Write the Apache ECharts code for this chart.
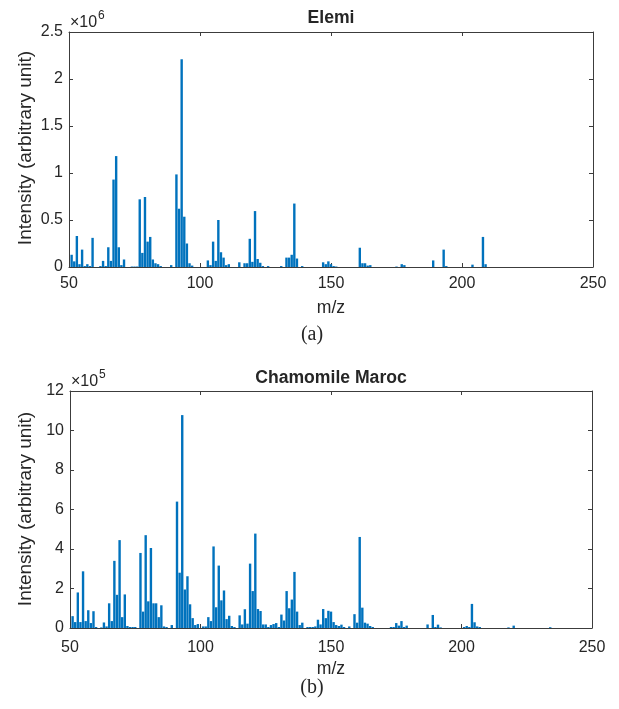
<!DOCTYPE html>
<html>
<head>
<meta charset="utf-8">
<script src="https://cdn.jsdelivr.net/npm/echarts@6/dist/echarts.min.js"></script>
<style>
html,body{margin:0;padding:0;background:#fff;}
#c{width:619px;height:709px;}
</style>
</head>
<body>
<div id="c"></div>
<script>
// ---------- data ----------
var titleA = 'Elemi';
var titleB = 'Chamomile Maroc';
var xTicks = [50, 100, 150, 200, 250];
var yTicksA = [0, 0.5, 1, 1.5, 2, 2.5];      // x10^6
var yTicksB = [0, 2, 4, 6, 8, 10, 12];       // x10^5

var mzA = [51,52,53,54,55,56,57,58,59,62,63,64,65,66,67,68,69,70,71,74,75,76,77,78,79,80,81,82,83,84,85,89,91,92,93,94,95,96,97,103,104,105,106,107,108,109,110,111,115,117,118,119,120,121,122,123,124,126,131,133,134,135,136,137,139,147,148,149,150,151,152,161,162,163,164,165,175,177,178,189,193,194,204,208,209];
var intA = [0.13,0.06,0.33,0.03,0.185,0.01,0.03,0.01,0.31,0.01,0.065,0.01,0.21,0.065,0.93,1.18,0.21,0.02,0.08,0.005,0.005,0.005,0.72,0.15,0.745,0.27,0.32,0.08,0.04,0.03,0.01,0.02,0.985,0.62,2.21,0.535,0.25,0.04,0.015,0.07,0.02,0.27,0.065,0.50,0.157,0.10,0.02,0.03,0.05,0.04,0.04,0.30,0.055,0.595,0.085,0.045,0.01,0.01,0.01,0.10,0.10,0.13,0.675,0.09,0.01,0.05,0.03,0.06,0.03,0.01,0.005,0.205,0.04,0.04,0.015,0.02,0.005,0.03,0.02,0.07,0.185,0.01,0.025,0.32,0.03];

var mzB = [51,52,53,54,55,56,57,58,59,60,62,63,64,65,66,67,68,69,70,71,72,73,74,75,77,78,79,80,81,82,83,84,85,86,87,89,91,92,93,94,95,96,97,98,99,101,102,103,104,105,106,107,108,109,110,111,112,113,115,116,117,118,119,120,121,122,123,124,125,126,127,128,129,130,131,132,133,134,135,136,137,138,139,141,142,143,144,145,146,147,148,149,150,151,152,153,154,155,157,159,160,161,162,163,164,165,166,173,174,175,176,177,178,179,187,189,190,191,192,201,202,203,204,205,206,207,218,220,234];
var intB = [0.6,0.3,1.8,0.3,2.87,0.35,0.9,0.25,0.85,0.05,0.03,0.28,0.08,1.25,0.35,3.4,1.68,4.45,0.55,1.7,0.1,0.05,0.05,0.05,3.8,0.83,4.7,1.35,4.05,1.25,1.25,0.55,1.15,0.08,0.05,0.15,6.4,2.8,10.78,1.95,2.62,1.2,0.5,0.15,0.2,0.08,0.08,0.55,0.35,4.13,1.05,3.16,1.4,1.9,0.45,0.62,0.1,0.05,0.64,0.18,0.95,0.22,3.26,1.87,4.78,0.96,0.86,0.18,0.18,0.05,0.15,0.2,0.25,0.05,0.68,0.38,1.87,1.0,1.44,2.84,0.83,0.15,0.27,0.05,0.05,0.05,0.08,0.42,0.18,0.96,0.5,0.87,0.83,0.3,0.15,0.1,0.17,0.05,0.08,0.7,0.27,4.61,1.03,0.27,0.22,0.1,0.05,0.05,0.05,0.25,0.12,0.35,0.05,0.12,0.18,0.66,0.05,0.17,0.03,0.05,0.1,0.05,1.22,0.29,0.08,0.05,0.03,0.12,0.04];

// ---------- chart ----------
var chart = echarts.init(document.getElementById('c'), null, {renderer: 'canvas'});
var FONT = 'Liberation Sans, Arial, Helvetica, sans-serif';
var AX = '#262626';
var LINE = '#3c3c3c';
var BLUE = '#0072BD';

function pairs(xs, ys) { return xs.map(function (x, i) { return [x, ys[i]]; }); }

function xAxes(grid, margin) {
  var base = {
    gridIndex: grid, type: 'value', min: xTicks[0], max: xTicks[xTicks.length - 1],
    interval: xTicks[1] - xTicks[0],
    axisLine: {show: true, onZero: false, lineStyle: {color: LINE, width: 1}},
    axisTick: {show: true, inside: true, length: 4, lineStyle: {color: LINE}},
    splitLine: {show: false}
  };
  return [
    Object.assign({}, base, {position: 'bottom',
      axisLabel: {show: true, color: AX, fontSize: 16, fontFamily: FONT, margin: margin}}),
    Object.assign({}, base, {position: 'top', axisLabel: {show: false}})
  ];
}
function yAxes(grid, ticks) {
  var base = {
    gridIndex: grid, type: 'value', min: ticks[0], max: ticks[ticks.length - 1],
    interval: ticks[1] - ticks[0],
    axisLine: {show: true, onZero: false, lineStyle: {color: LINE, width: 1}},
    axisTick: {show: true, inside: true, length: 4, lineStyle: {color: LINE}},
    splitLine: {show: false}
  };
  return [
    Object.assign({}, base, {position: 'left',
      axisLabel: {show: true, color: AX, fontSize: 16, fontFamily: FONT, margin: 6}}),
    Object.assign({}, base, {position: 'right', axisLabel: {show: false}})
  ];
}

var xa = xAxes(0, 9).concat(xAxes(1, 12));
var ya = yAxes(0, yTicksA).concat(yAxes(1, yTicksB));

function txt(x, y, text, opt) {
  return {
    type: 'text', x: x, y: y, rotation: opt.rotation || 0, silent: true,
    style: {
      text: text, fill: AX, font: opt.font,
      align: opt.align || 'center', verticalAlign: opt.va || 'middle'
    }
  };
}

var option = {
  animation: false,
  backgroundColor: '#ffffff',
  grid: [
    {left: 69, top: 32, width: 524, height: 235, containLabel: false},
    {left: 70, top: 391, width: 522, height: 237, containLabel: false}
  ],
  xAxis: xa,
  yAxis: ya,
  series: [
    {type: 'bar', xAxisIndex: 0, yAxisIndex: 0, data: pairs(mzA, intA), barWidth: 2.4,
     itemStyle: {color: BLUE}, silent: true},
    {type: 'bar', xAxisIndex: 2, yAxisIndex: 2, data: pairs(mzB, intB), barWidth: 2.4,
     itemStyle: {color: BLUE}, silent: true}
  ],
  graphic: [
    // titles
    txt(331, 18, titleA, {font: 'bold 17.6px ' + FONT}),
    txt(331, 378, titleB, {font: 'bold 17.6px ' + FONT}),
    // exponent markers
    txt(70, 23, '\u00d710', {font: '16px ' + FONT, align: 'left'}),
    txt(98, 16, '6', {font: '12px ' + FONT, align: 'left'}),
    txt(71, 382, '\u00d710', {font: '16px ' + FONT, align: 'left'}),
    txt(99, 375, '5', {font: '12px ' + FONT, align: 'left'}),
    // x labels
    txt(331, 308, 'm/z', {font: '17.6px ' + FONT}),
    txt(331, 669, 'm/z', {font: '17.6px ' + FONT}),
    // y labels
    txt(26, 148, 'Intensity (arbitrary unit)', {font: '19px ' + FONT, rotation: Math.PI / 2}),
    txt(26, 509, 'Intensity (arbitrary unit)', {font: '19px ' + FONT, rotation: Math.PI / 2}),
    // panel captions
    txt(312, 335, '(a)', {font: '20px Liberation Serif, Times New Roman, serif'}),
    txt(312, 688, '(b)', {font: '20px Liberation Serif, Times New Roman, serif'})
  ]
};
chart.setOption(option);
</script>
</body>
</html>
